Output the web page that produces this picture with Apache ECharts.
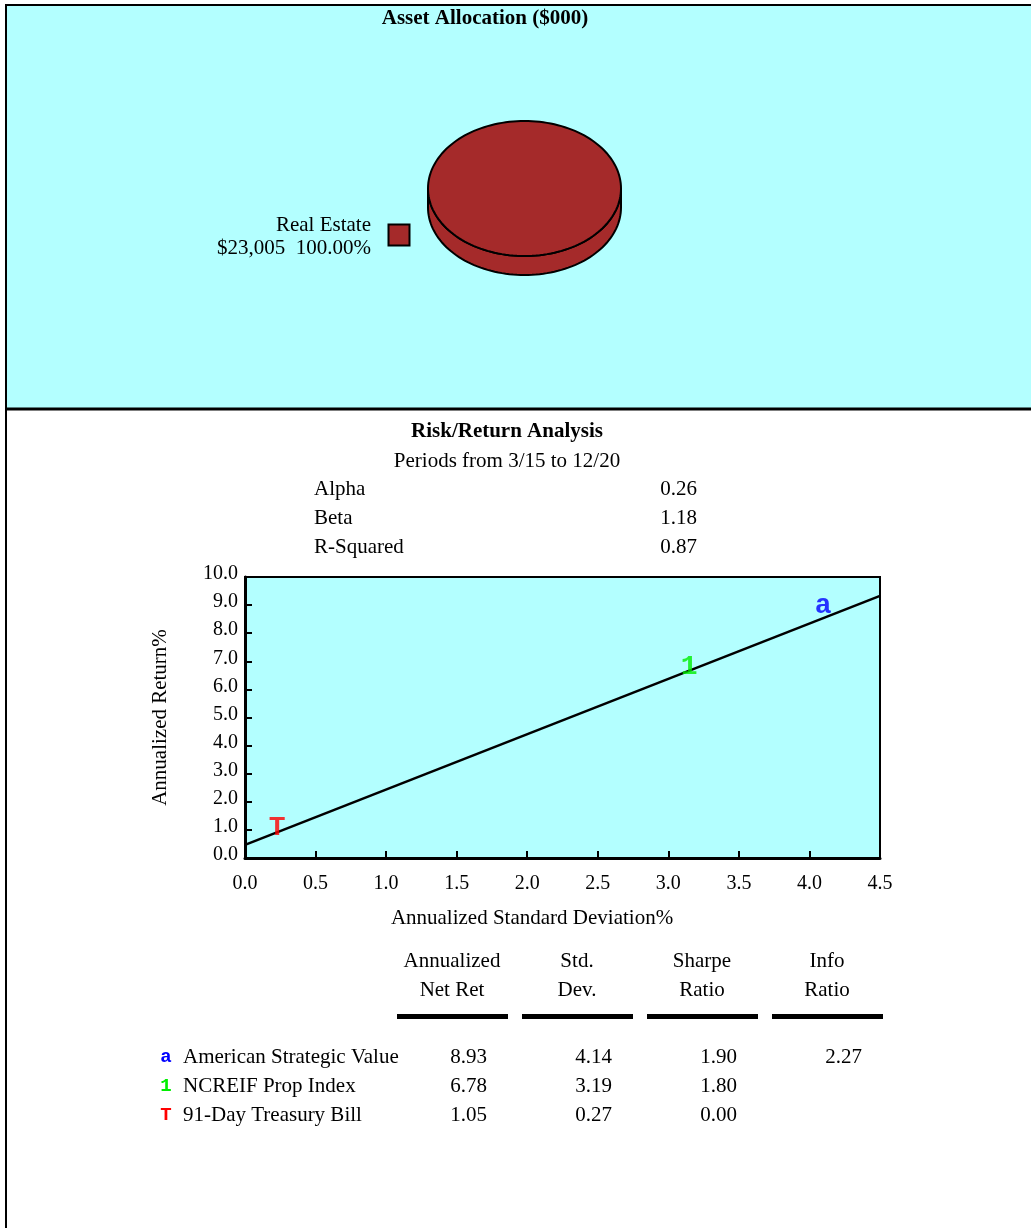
<!DOCTYPE html>
<html><head><meta charset="utf-8">
<script src="https://cdn.jsdelivr.net/npm/echarts@6/dist/echarts.min.js"></script>
<style>html,body{margin:0;padding:0;background:#fff}#c{width:1031px;height:1228px}</style>
</head><body><div id="c"></div>
<script>
// ---- data ----
const allocNames = ['Real Estate'];
const allocValues = [23005];
const allocColors = ['#A52A2A'];

const statLabels = ['Alpha', 'Beta', 'R-Squared'];
const statValues = ['0.26', '1.18', '0.87'];

const managerNames = ['American Strategic Value', 'NCREIF Prop Index', '91-Day Treasury Bill'];
const managerMarkers = ['a', '1', 'T'];
const managerColors = ['#0000FF', '#00EE00', '#FF0000'];
const stdDev = [4.14, 3.19, 0.27];
const netRet = [8.93, 6.78, 1.05];
const sharpe = ['1.90', '1.80', '0.00'];
const infoRatio = ['2.27', '', ''];

const regressionLine = [[0, 0.47], [4.5, 9.33]];

const xTicks = [0, 4.5, 0.5];   // min, max, interval
const yTicks = [0, 10, 1];

const tableHeaders = [['Annualized', 'Net Ret'], ['Std.', 'Dev.'], ['Sharpe', 'Ratio'], ['Info', 'Ratio']];

// ---- layout ----
const SERIF = '"Liberation Serif","Times New Roman",serif';
const MONO = '"Liberation Mono","Courier New",monospace';
const CYAN = '#B3FFFF';
const FS = 21;

const chart = echarts.init(document.getElementById('c'), null, {renderer: 'canvas'});

const total = allocValues.reduce((a, b) => a + b, 0);
const graphics = [];
function txt(x, y, t, opts) {
  opts = opts || {};
  graphics.push({type: 'text', z: 10, style: {x: x, y: y, text: t,
    font: (opts.bold ? 'bold ' : '') + (opts.size || FS) + 'px ' + (opts.family || SERIF),
    fill: opts.color || '#000', align: opts.align || 'left', verticalAlign: 'middle'}});
}
// panels
graphics.push({type: 'rect', z: -10, shape: {x: 6, y: 5, width: 1030, height: 404}, style: {fill: CYAN, stroke: '#000', lineWidth: 2}});
graphics.push({type: 'line', z: 5, shape: {x1: 6, y1: 409, x2: 1031, y2: 409}, style: {stroke: '#000', lineWidth: 3}});
graphics.push({type: 'line', z: 5, shape: {x1: 6, y1: 409, x2: 6, y2: 1228}, style: {stroke: '#000', lineWidth: 2}});
// titles
txt(485, 19, 'Asset Allocation ($000)', {bold: true, align: 'center', size: 21});
txt(507, 432, 'Risk/Return Analysis', {bold: true, align: 'center', size: 21});
txt(507, 461, 'Periods from 3/15 to 12/20', {align: 'center'});
statLabels.forEach((l, i) => {
  txt(314, 489 + i * 29, l);
  txt(697, 489 + i * 29, statValues[i], {align: 'right'});
});
// pie legend
allocNames.forEach((n, i) => {
  const y0 = 225 + i * 50;
  graphics.push({type: 'rect', shape: {x: 388.5, y: y0 - 0.5, width: 21, height: 21}, style: {fill: allocColors[i], stroke: '#000', lineWidth: 2}});
  txt(371, y0, n, {align: 'right'});
  const pct = (allocValues[i] / total * 100).toFixed(2) + '%';
  txt(371, y0 + 23, '$' + allocValues[i].toLocaleString('en-US') + '  ' + pct, {align: 'right'});
});
// x axis name
txt(532, 918, 'Annualized Standard Deviation%', {align: 'center'});
// table header
const colCenters = [452, 577, 702, 827];
const colRights = [487, 612, 737, 862];
tableHeaders.forEach((h, i) => {
  txt(colCenters[i], 961, h[0], {align: 'center'});
  txt(colCenters[i], 990, h[1], {align: 'center'});
  graphics.push({type: 'rect', shape: {x: 397 + i * 125, y: 1014, width: 111, height: 5}, style: {fill: '#000'}});
});
managerNames.forEach((n, i) => {
  const y = 1057 + i * 29;
  txt(166, y, managerMarkers[i], {bold: true, align: 'center', size: 19, family: MONO, color: managerColors[i]});
  txt(183, y, n);
  const vals = [netRet[i].toFixed(2), stdDev[i].toFixed(2), sharpe[i], infoRatio[i]];
  vals.forEach((v, j) => { if (v) txt(colRights[j], y, v, {align: 'right'}); });
});

// 3D pie via custom series
const pieData = allocValues.map((v, i) => ({name: allocNames[i], value: [0, 0, v]}));
function ellipsePts(cx, cy, rx, ry, a0, a1, n) {
  const pts = [];
  for (let k = 0; k <= n; k++) {
    const a = a0 + (a1 - a0) * k / n;
    pts.push([cx + rx * Math.cos(a), cy + ry * Math.sin(a)]);
  }
  return pts;
}
function renderPie(params, api) {
  const cs = params.coordSys;
  const depth = 19;
  const rx = cs.width / 2, ry = (cs.height - depth) / 2;
  const cx = cs.x + rx, cy = cs.y + ry;
  let start = -Math.PI / 2;
  for (let k = 0; k < params.dataIndex; k++) start += allocValues[k] / total * Math.PI * 2;
  const end = start + api.value(2) / total * Math.PI * 2;
  const color = allocColors[params.dataIndex];
  const children = [];
  const full = (end - start) >= Math.PI * 2 - 1e-6;
  let sideRanges = [];
  if (full) sideRanges = [[0, Math.PI]];
  else {
    [[start, end], [start - 2 * Math.PI, end - 2 * Math.PI], [start + 2 * Math.PI, end + 2 * Math.PI]].forEach(r => {
      const a = Math.max(r[0], 0), b = Math.min(r[1], Math.PI);
      if (b > a) sideRanges.push([a, b]);
    });
  }
  sideRanges.forEach(r => {
    const bottom = ellipsePts(cx, cy + depth, rx, ry, r[0], r[1], 80);
    const top = ellipsePts(cx, cy, rx, ry, r[1], r[0], 80);
    children.push({type: 'polygon', shape: {points: bottom.concat(top)}, style: {fill: color, stroke: '#000', lineWidth: 2}});
  });
  let topPts = ellipsePts(cx, cy, rx, ry, start, end, 160);
  if (!full) topPts = [[cx, cy]].concat(topPts);
  children.push({type: 'polygon', shape: {points: topPts}, style: {fill: color, stroke: '#000', lineWidth: 2}});
  return {type: 'group', children};
}

const option = {
  animation: false,
  backgroundColor: '#fff',
  textStyle: {fontFamily: SERIF},
  grid: [
    {left: 245, top: 577, width: 635, height: 281, show: true, backgroundColor: CYAN, borderColor: '#000', borderWidth: 2},
    {left: 428, top: 121, width: 193, height: 154, show: false}
  ],
  xAxis: [
    {gridIndex: 0, type: 'value', min: xTicks[0], max: xTicks[1], interval: xTicks[2],
     splitLine: {show: false},
     axisLine: {show: true, onZero: false, lineStyle: {color: '#000', width: 3}},
     axisTick: {show: true, inside: true, length: 7, lineStyle: {color: '#000', width: 2}},
     axisLabel: {color: '#000', fontFamily: SERIF, fontSize: 20, margin: 16, formatter: v => v.toFixed(1)}},
    {gridIndex: 1, type: 'value', min: 0, max: 1, show: false}
  ],
  yAxis: [
    {gridIndex: 0, type: 'value', min: yTicks[0], max: yTicks[1], interval: yTicks[2],
     splitLine: {show: false},
     axisLine: {show: true, onZero: false, lineStyle: {color: '#000', width: 3}},
     axisTick: {show: true, inside: true, length: 7, lineStyle: {color: '#000', width: 2}},
     axisLabel: {color: '#000', fontFamily: SERIF, fontSize: 20, margin: 7, verticalAlign: 'bottom', lineHeight: 6, formatter: v => v.toFixed(1)},
     name: 'Annualized Return%', nameLocation: 'middle', nameGap: 74, nameRotate: 90,
     nameTextStyle: {color: '#000', fontFamily: SERIF, fontSize: FS}},
    {gridIndex: 1, type: 'value', min: 0, max: 1, show: false}
  ],
  series: [
    {type: 'line', xAxisIndex: 0, yAxisIndex: 0, data: regressionLine, showSymbol: false, symbol: 'none',
     lineStyle: {color: '#000', width: 2.5}, silent: true, z: 3},
    {type: 'scatter', xAxisIndex: 0, yAxisIndex: 0, z: 4,
     data: stdDev.map((s, i) => ({value: [s, netRet[i]], label: {color: managerColors[i]}})),
     symbolSize: 1, itemStyle: {color: 'rgba(0,0,0,0)'},
     label: {show: true, position: 'inside', offset: [-6, -1], formatter: p => managerMarkers[p.dataIndex],
       fontFamily: MONO, fontWeight: 'bold', fontSize: 28}},
    {type: 'custom', xAxisIndex: 1, yAxisIndex: 1, data: pieData, renderItem: renderPie, silent: true}
  ],
  graphic: graphics
};
chart.setOption(option);
</script></body></html>
